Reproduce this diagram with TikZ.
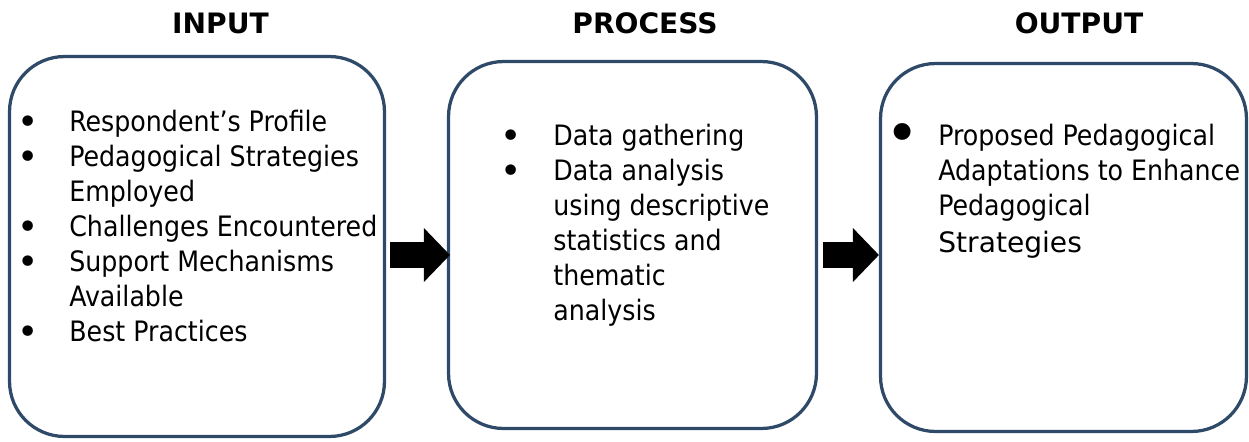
\documentclass[tikz,border=0pt]{standalone}
\usepackage{fontspec}
\setmainfont{DejaVu Sans Condensed}
\newfontfamily\widefont{DejaVu Sans}
\usetikzlibrary{arrows.meta}
\definecolor{navy}{HTML}{2E4A68}
\newcommand\itm{\makebox[0pt]{\raisebox{-.07cm}{\widefont\fontsize{20.5}{20.5}\selectfont\textbullet}}}
\newcommand\bigitm{\makebox[0pt]{\raisebox{-.17cm}{\widefont\fontsize{33}{33}\selectfont\textbullet}}}
\tikzset{every node/.style={font=\fontsize{16}{19.92}\selectfont},
 box/.style={draw=navy,line width=.065cm,rounded corners=1.1cm,inner sep=0pt},
 hdr/.style={font=\widefont\bfseries\fontsize{16}{19.92}\selectfont,anchor=base},
 list/.style={anchor=north west,inner sep=0pt},
 flow/.style={draw=black,line width=.52cm,-{Triangle[length=.52cm,width=1.08cm,line width=0pt]}}}
\begin{document}
\begin{tikzpicture}[x=.02cm,y=-.02cm]

\useasboundingbox (0,0) rectangle (1249,441);
\node[hdr] (inhdr) at (220.5,33) {INPUT};
\node[hdr] (prochdr) at (645,33) {PROCESS};
\node[hdr] (outhdr) at (1079,33) {OUTPUT};

\node[box,minimum width=7.5cm,minimum height=7.6cm] (inbox) at (197,246.5) {};
\node[box,minimum width=7.36cm,minimum height=7.34cm] (procbox) at (632.5,245) {};
\node[box,minimum width=7.32cm,minimum height=7.36cm] (outbox) at (1063.5,247.5) {};

\node[list] (inlist) at (28,106.5) {\begin{tabular}{@{}l@{\hspace{.82cm}}l@{}}
 \itm & Respondent’s Profile\\
 \itm & Pedagogical Strategies\\
 & Employed\\
 \itm & Challenges Encountered\\
 \itm & Support Mechanisms\\
 & Available\\
 \itm & Best Practices
\end{tabular}};
\node[list] (proclist) at (511,120.5) {\begin{tabular}{@{}l@{\hspace{.84cm}}l@{}}
 \itm & Data gathering\\
 \itm & Data analysis\\
 & using descriptive\\
 & statistics and\\
 & thematic\\
 & analysis
\end{tabular}};
\node[list] (outlist) at (902,120.5) {\begin{tabular}{@{}l@{\hspace{.72cm}}l@{}}
 \bigitm & Proposed Pedagogical\\
 & Adaptations to Enhance\\
 & Pedagogical\\[.04cm]
 & {\widefont Strategies}
\end{tabular}};

\coordinate (arrowrow) at (0,255);
\draw[flow,shorten <=.08cm,shorten >=-.06cm] (inbox.east |- arrowrow) -- (procbox.west |- arrowrow);
\draw[flow,shorten <=.1cm] (procbox.east |- arrowrow) -- (outbox.west |- arrowrow);

\end{tikzpicture}
\end{document}
